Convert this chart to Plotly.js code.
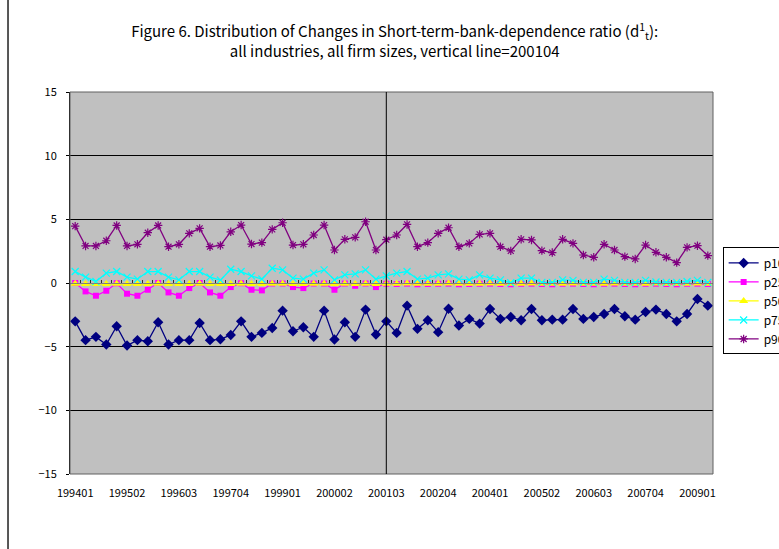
<!DOCTYPE html>
<html>
<head>
<meta charset="utf-8">
<script src="https://cdn.plot.ly/plotly-3.0.1.min.js"></script>
<style>
html,body{margin:0;padding:0;background:#fff;}
#chart{width:779px;height:549px;}
</style>
</head>
<body>
<div id="chart"></div>
<script>
// Quarterly categories (YYYYQQ)
var quarters = [
  "199401","199402","199403","199404",
  "199501","199502","199503","199504",
  "199601","199602","199603","199604",
  "199701","199702","199703","199704",
  "199801","199802","199803","199804",
  "199901","199902","199903","199904",
  "200001","200002","200003","200004",
  "200101","200102","200103","200104",
  "200201","200202","200203","200204",
  "200301","200302","200303","200304",
  "200401","200402","200403","200404",
  "200501","200502","200503","200504",
  "200601","200602","200603","200604",
  "200701","200702","200703","200704",
  "200801","200802","200803","200804",
  "200901","200902"
];
var tickLabels = ["199401","199502","199603","199704","199901","200002","200103","200204","200401","200502","200603","200704","200901"];
var verticalLineAt = "200103";

var p10 = [-3.01,-4.49,-4.23,-4.83,-3.40,-4.91,-4.49,-4.57,-3.08,-4.83,
           -4.49,-4.49,-3.14,-4.49,-4.42,-4.08,-3.01,-4.23,-3.92,-3.53,
           -2.17,-3.79,-3.47,-4.23,-2.17,-4.44,-3.08,-4.23,-2.09,-4.05,
           -3.01,-3.92,-1.78,-3.60,-2.93,-3.86,-2.02,-3.34,-2.82,-3.19,
           -2.04,-2.82,-2.67,-2.93,-2.04,-2.93,-2.88,-2.88,-2.04,-2.82,
           -2.67,-2.43,-2.04,-2.61,-2.88,-2.28,-2.09,-2.43,-3.01,-2.43,
           -1.26,-1.78];
var p25 = [0.00,-0.66,-1.00,-0.61,-0.02,-0.84,-1.00,-0.53,0.00,-0.74,
           -1.00,-0.40,0.00,-0.74,-1.00,-0.32,-0.02,-0.53,-0.58,-0.04,
           -0.04,-0.32,-0.40,-0.04,-0.04,-0.53,-0.04,-0.22,-0.04,-0.32,
           -0.06,-0.08,-0.05,-0.10,-0.08,-0.06,-0.05,-0.10,-0.08,-0.06,
           -0.05,-0.08,-0.10,-0.06,-0.05,-0.08,-0.10,-0.06,-0.05,-0.08,
           -0.10,-0.06,-0.05,-0.08,-0.10,-0.06,-0.05,-0.08,-0.10,-0.06,
           -0.05,-0.08];
var p50 = [-0.05,-0.08,-0.08,-0.07,-0.05,-0.08,-0.08,-0.07,-0.05,-0.08,
           -0.08,-0.07,-0.05,-0.08,-0.08,-0.07,-0.05,-0.08,-0.08,-0.06,
           -0.05,-0.07,-0.08,-0.06,-0.05,-0.08,-0.06,-0.07,-0.05,-0.07,
           -0.06,-0.05,-0.04,-0.06,-0.05,-0.05,-0.04,-0.06,-0.05,-0.05,
           -0.04,-0.06,-0.05,-0.05,-0.04,-0.06,-0.05,-0.05,-0.04,-0.06,
           -0.05,-0.05,-0.04,-0.06,-0.05,-0.05,-0.04,-0.06,-0.05,-0.05,
           -0.04,-0.05];
var p75 = [0.90,0.46,0.12,0.77,0.90,0.46,0.30,0.90,0.90,0.46,
           0.25,0.90,0.90,0.46,0.22,1.08,0.90,0.56,0.30,1.16,
           1.03,0.38,0.30,0.77,1.03,0.25,0.64,0.72,1.03,0.30,
           0.56,0.77,0.90,0.30,0.38,0.64,0.72,0.30,0.25,0.64,
           0.38,0.25,0.02,0.38,0.38,0.05,0.05,0.25,0.20,0.05,
           0.05,0.30,0.20,0.05,0.05,0.20,0.08,0.05,0.05,0.12,
           0.20,0.05];
var p90 = [4.47,2.91,2.91,3.32,4.52,2.91,3.04,3.95,4.52,2.85,
           3.04,3.90,4.29,2.85,2.95,4.02,4.55,3.06,3.17,4.21,
           4.73,2.98,3.04,3.77,4.55,2.59,3.43,3.58,4.81,2.59,
           3.40,3.77,4.60,2.85,3.17,3.90,4.34,2.85,3.11,3.82,
           3.90,2.85,2.52,3.43,3.38,2.54,2.39,3.43,3.11,2.20,
           2.02,3.04,2.59,2.07,1.89,2.98,2.41,2.02,1.60,2.80,
           2.93,2.15];

var idx = quarters.map(function(q, i){ return i; });
var tickIdx = tickLabels.map(function(t){ return quarters.indexOf(t); });
var vIdx = quarters.indexOf(verticalLineAt);

var FONT = '"Noto Sans CJK JP", "Noto Sans", sans-serif';

function series(name, y, color, symbol, size, mline) {
  return {
    type: 'scatter', mode: 'lines+markers', name: name,
    x: idx, y: y,
    line: {color: color, width: 1.3},
    marker: {symbol: symbol, size: size, color: color,
             line: {color: color, width: mline}},
    hoverinfo: 'skip'
  };
}

var traces = [
  series('p10', p10, '#000080', 'diamond', 8, 0),
  series('p25', p25, '#FF00FF', 'square', 6, 0),
  series('p50', p50, '#FFFF00', 'triangle-up', 8, 0),
  series('p75', p75, '#00FFFF', 'x-thin-open', 7, 1.2),
  series('p90', p90, '#800080', 'asterisk-open', 7, 1.2),
  {type:'scatter', x:[], y:[], xaxis:'x2', yaxis:'y', showlegend:false, hoverinfo:'skip'}
];

var layout = {
  width: 779, height: 549,
  margin: {l: 70, r: 66, t: 92, b: 75, pad: 0, autoexpand: false},
  paper_bgcolor: '#ffffff',
  plot_bgcolor: '#C0C0C0',
  font: {family: FONT, size: 11, color: '#000'},
  title: {
    text: 'Figure 6. Distribution of Changes in Short-term-bank-dependence ratio (d<sup>1</sup><sub>t</sub>):<br>all industries, all firm sizes, vertical line=200104',
    font: {family: FONT, size: 15, color: '#000'},
    x: 0.505, xref: 'paper', xanchor: 'center',
    y: 0.932, yref: 'container', yanchor: 'top'
  },
  xaxis: {
    range: [-0.5, idx.length - 0.5],
    tickmode: 'array', tickvals: tickIdx, ticktext: tickLabels,
    ticks: '', showgrid: false, zeroline: false, showline: false,
    tickfont: {family: FONT, size: 11, color: '#000'},
    ticklabelstandoff: 11, fixedrange: true
  },
  xaxis2: {
    overlaying: 'x', anchor: 'free', position: 0.5, side: 'bottom',
    range: [-0.5, idx.length - 0.5],
    tickmode: 'linear', tick0: -0.5, dtick: 1,
    ticks: 'inside', ticklen: 3, tickcolor: '#303030', tickwidth: 1,
    showticklabels: false, showgrid: false, zeroline: false,
    showline: true, linecolor: '#808080', linewidth: 1
  },
  yaxis: {
    range: [-15, 15], dtick: 5, tick0: 0,
    showgrid: true, gridcolor: '#000000', gridwidth: 1,
    zeroline: false, showline: true, linecolor: '#000000', linewidth: 1,
    ticks: 'outside', ticklen: 3, tickcolor: '#000',
    tickfont: {family: FONT, size: 11, color: '#000'},
    ticklabelstandoff: 7, fixedrange: true
  },
  legend: {
    x: 1.015, xanchor: 'left', y: 0.593, yanchor: 'top',
    bgcolor: '#ffffff', bordercolor: '#000000', borderwidth: 1,
    font: {family: FONT, size: 12, color: '#000'},
    itemwidth: 30, tracegroupgap: 0
  },
  shapes: [
    {type: 'rect', xref: 'paper', yref: 'paper', x0: 0, x1: 1, y0: 0, y1: 1,
     line: {color: '#606060', width: 1}, layer: 'above'},
    {type: 'line', xref: 'x', yref: 'paper', x0: vIdx, x1: vIdx, y0: 0, y1: 1,
     line: {color: '#000000', width: 1}},
    {type: 'line', xref: 'paper', yref: 'paper', x0: -0.0964, x1: -0.0964, y0: -0.2, y1: 1.25,
     line: {color: '#202020', width: 1.5}}
  ],
  showlegend: true
};

Plotly.newPlot('chart', traces, layout, {staticPlot: true, displayModeBar: false});
</script>
</body>
</html>
